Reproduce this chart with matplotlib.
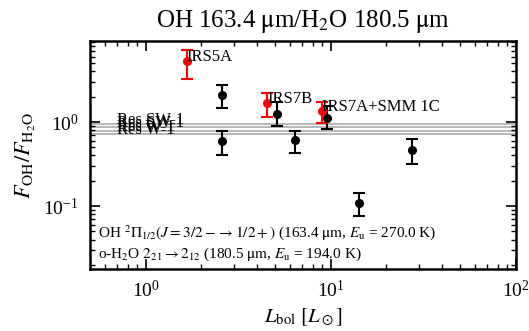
import numpy as np
import matplotlib
matplotlib.use("Agg")
import matplotlib.pyplot as plt

plt.rcParams['font.family'] = ['Liberation Serif', 'DejaVu Serif']
plt.rcParams['mathtext.fontset'] = 'stix'

# black sources
lbol = [2.6, 2.6, 5.1, 6.45, 9.6, 14.2, 27.6]
ratio = [2.1, 0.59, 1.25, 0.61, 1.12, 0.108, 0.47]
err_lo = [0.65, 0.19, 0.35, 0.18, 0.29, 0.032, 0.15]
err_hi = [0.65, 0.19, 0.48, 0.17, 0.45, 0.035, 0.16]

# highlighted (red) sources
red_names = ['IRS5A', 'IRS7B', 'IRS7A+SMM 1C']
red_lbol = [1.67, 4.55, 8.93]
red_ratio = [5.3, 1.68, 1.35]
red_lo = [2.05, 0.53, 0.38]
red_hi = [1.9, 0.52, 0.38]

# model reference lines
res_names = ['Res SW-1', 'Res SW-1', 'Res W-1', 'Res W-1']
res_vals = [0.945, 0.87, 0.79, 0.72]

fig = plt.figure(figsize=(5.29, 3.31), dpi=100)
ax = fig.add_axes([0.170, 0.187, 0.805, 0.689])

for name, v in zip(res_names, res_vals):
    ax.axhline(v, color='#b0b0b0', lw=1.3, zorder=1)
    ax.text(0.7, v, name, fontsize=12, zorder=2)

ax.errorbar(lbol, ratio, yerr=[err_lo, err_hi], fmt='o', color='black',
            ms=5.5, capsize=4, elinewidth=1.5, capthick=1.5, zorder=3)
ax.errorbar(red_lbol, red_ratio, yerr=[red_lo, red_hi], fmt='o', color='red',
            ms=5.5, capsize=4, elinewidth=1.5, capthick=1.5, zorder=3)
for name, x, y in zip(red_names, red_lbol, red_ratio):
    ax.text(x, y, name, fontsize=12, zorder=4)

ax.set_xscale('log')
ax.set_yscale('log')
ax.set_xlim(0.5, 100)
ax.set_ylim(0.0178, 9.2)

ax.text(0.019, 0.14, r'OH $^2\Pi_{1/2}(J=3/2-\rightarrow 1/2+)$ (163.4 $\mathrm{\mu m}$, $E_\mathrm{u}$ = 270.0 K)',
        transform=ax.transAxes, fontsize=11, va='baseline')
ax.text(0.019, 0.048, r'o-H$_2$O $2_{21}\rightarrow 2_{12}$ (180.5 $\mathrm{\mu m}$, $E_\mathrm{u}$ = 194.0 K)',
        transform=ax.transAxes, fontsize=11, va='baseline')

ax.set_title(r'OH 163.4 $\mathrm{\mu}$m/H$_2$O 180.5 $\mathrm{\mu}$m', fontsize=18, pad=10)
ax.set_xlabel(r'$L_\mathrm{bol}$ $[L_\odot]$', fontsize=15)
ax.set_ylabel(r'$F_\mathrm{OH}/F_\mathrm{H_2O}$', fontsize=16)

for s in ax.spines.values():
    s.set_linewidth(1.8)
ax.tick_params(which='both', direction='in', top=True, right=True, labelsize=14)
ax.tick_params(which='major', length=7, width=1.2, pad=8)
ax.tick_params(which='minor', length=3.5, width=1.0)

fig.savefig('out.png', dpi=100)
